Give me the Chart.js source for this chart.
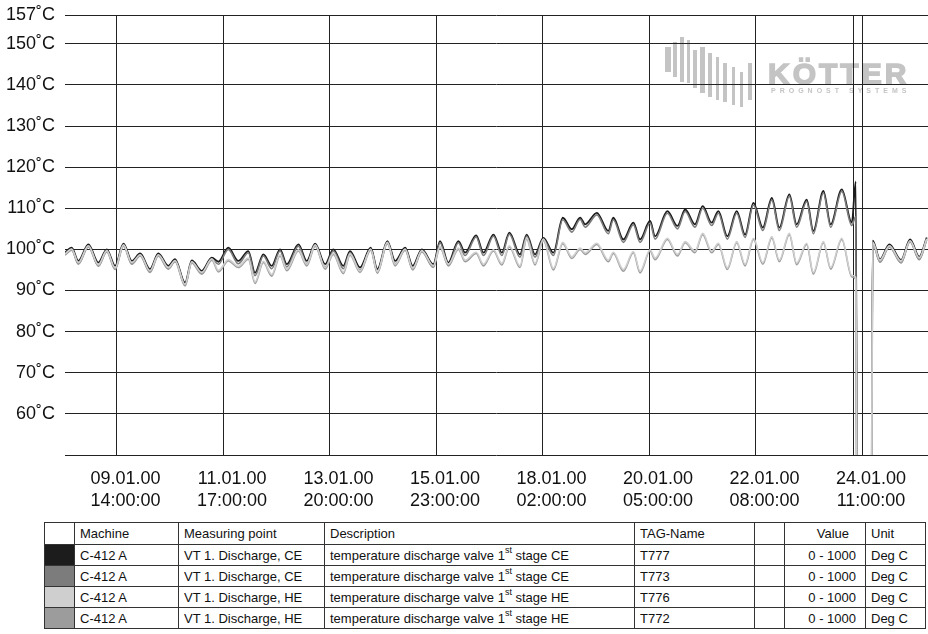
<!DOCTYPE html>
<html>
<head>
<meta charset="utf-8">
<script src="https://cdn.jsdelivr.net/npm/chart.js@4/dist/chart.umd.min.js"></script>
<style>
  html, body { margin:0; padding:0; background:#fff; }
  body { width:928px; height:634px; position:relative; overflow:hidden; font-family:"Liberation Sans", Arial, Helvetica, sans-serif; }
  #wrap { position:absolute; left:0; top:0; width:928px; height:520px; }
  table { position:absolute; left:44px; top:522px; border-collapse:collapse; table-layout:fixed; width:881px;
          font:13px "Liberation Sans", Arial, Helvetica, sans-serif; color:#111; }
  td { border:1px solid #333; padding:0 0 0 5px; white-space:nowrap; overflow:hidden; line-height:15px; }
  tr.h td { height:21px; }
  tr.r td { height:20px; }
  td.num { text-align:right; padding:0 9px 0 0; }
  td.sw { padding:0; }
  sup { font-size:9px; line-height:0; position:relative; top:-1px; }
</style>
</head>
<body>
<div id="wrap"><canvas id="c" width="928" height="520"></canvas></div>
<table id="legend">
  <colgroup>
    <col style="width:30px"><col style="width:104px"><col style="width:146px"><col style="width:310px">
    <col style="width:120px"><col style="width:30px"><col style="width:81px"><col style="width:60px">
  </colgroup>
  <tbody id="tb"></tbody>
</table>
<script>
// ---------- data ----------
const timeHours = [
  -24.7, -21.5, -18.3, -13.5, -8.7, -4.7, -0.7, 3.3, 7.3, 11.3, 16.0, 20.0, 24.8, 28.0, 32.8, 36.0, 40.8, 45.6, 48.8, 53.5,
  58.3, 63.1, 66.3, 70.3, 74.3, 78.3, 81.5, 87.1, 91.1, 95.1, 99.9, 103.8, 108.6, 111.8,
  116.6, 121.7, 124.9, 129.7, 133.4, 138.2, 141.8, 146.2, 151.7, 154.9, 158.9, 163.7, 166.9, 172.2, 175.7, 180.5,
  184.5, 188.1, 193.2, 196.4, 200.4, 204.4, 209.2, 213.7, 218.0, 222.0, 224.4,
  230.0, 235.5, 237.9, 242.7, 247.5, 250.7, 255.5, 257.9, 263.8, 268.6, 272.3, 277.0, 280.7, 285.0, 288.2, 292.5,
  297.0, 301.0, 305.0, 309.5, 313.8, 317.4, 322.2, 325.7, 330.5, 333.7, 338.5, 342.0, 347.3, 352.1, 354.0, 354.9,
  361.3, 362.1, 365.6, 370.1, 375.7, 380.0, 384.4, 388.0
];
const t777 = [
  99.2, 100.4, 97.2, 101.2, 96.8, 100.0, 96.0, 101.4, 97.2, 99.0, 95.2, 99.0, 96.0, 97.6, 91.9, 97.3, 94.8, 98.0, 97.0, 100.4,
  97.2, 99.6, 94.3, 98.8, 96.0, 100.0, 96.4, 101.2, 97.2, 101.4, 96.4, 100.0, 96.0, 99.6,
  95.6, 100.4, 95.2, 102.0, 97.2, 100.4, 96.0, 100.0, 96.4, 102.0, 96.8, 102.0, 99.2, 103.4, 99.2, 103.6,
  99.2, 104.1, 98.8, 103.6, 98.8, 102.8, 99.2, 107.7, 104.9, 107.7, 106.1,
  108.9, 104.5, 107.7, 102.4, 106.5, 102.4, 106.9, 103.2, 109.3, 105.7, 109.7, 106.1, 110.5, 106.5, 109.3, 103.2,
  109.3, 103.6, 111.3, 105.3, 112.5, 105.3, 113.4, 106.1, 112.1, 104.5, 114.2, 106.1, 114.6, 106.5, 116.5, 0,
  0, 102.1, 97.6, 101.2, 97.4, 102.4, 98.2, 102.9
];
const t773 = [
  98.8, 100.0, 96.5, 100.8, 96.0, 99.6, 95.3, 101.0, 96.5, 98.6, 94.5, 98.6, 95.3, 97.2, 91.3, 96.9, 94.1, 97.6, 96.4, 100.0,
  96.5, 99.2, 93.6, 98.4, 95.3, 99.6, 95.7, 100.8, 96.5, 101.0, 95.7, 99.6, 95.3, 99.2,
  94.9, 100.0, 94.5, 101.6, 96.5, 100.0, 95.3, 99.6, 95.7, 101.6, 96.1, 101.6, 98.5, 103.0, 98.5, 103.2,
  98.5, 103.7, 98.1, 103.2, 98.1, 102.4, 98.5, 107.2, 104.2, 107.3, 105.4,
  108.4, 103.8, 107.2, 101.7, 106.0, 101.7, 106.4, 102.5, 108.8, 105.0, 109.2, 105.4, 110.0, 105.8, 108.8, 102.5,
  108.8, 102.9, 110.8, 104.6, 112.0, 104.6, 112.9, 105.4, 111.6, 103.8, 113.7, 105.4, 114.1, 105.8, 108.0, 0,
  0, 101.6, 96.9, 100.8, 96.7, 102.0, 97.5, 102.5
];
const t776 = [
  98.9, 100.1, 96.8, 100.9, 96.3, 99.7, 95.5, 101.1, 96.8, 98.7, 94.8, 98.7, 95.6, 97.3, 91.5, 97.0, 94.4, 97.7, 94.9, 97.5,
  95.9, 97.9, 92.1, 97.1, 93.9, 98.7, 95.2, 99.9, 96.4, 101.1, 95.6, 99.1, 94.5, 98.9,
  94.8, 100.1, 94.6, 101.7, 96.4, 100.1, 95.4, 99.7, 96.0, 100.7, 96.4, 100.3, 97.4, 99.3, 96.4, 99.9,
  96.6, 100.9, 96.0, 102.8, 96.6, 102.5, 95.4, 101.7, 98.2, 100.3, 99.2,
  101.5, 97.4, 99.3, 95.1, 99.5, 94.7, 99.9, 97.9, 102.7, 98.8, 101.9, 99.6, 103.9, 99.6, 101.5, 95.5,
  101.9, 96.4, 102.7, 96.8, 103.1, 97.4, 103.9, 96.7, 101.5, 94.4, 101.9, 95.6, 102.7, 93.7, 93.2, 0,
  0, 101.7, 97.4, 100.9, 97.2, 102.1, 98.0, 102.6
];
const t772 = [
  98.6, 99.8, 96.4, 100.6, 95.9, 99.4, 95.1, 100.8, 96.4, 98.4, 94.4, 98.4, 95.2, 97.0, 91.1, 96.7, 94.0, 97.4, 94.5, 97.2,
  95.6, 97.6, 91.7, 96.8, 93.5, 98.4, 94.8, 99.6, 96.0, 100.8, 95.2, 98.8, 94.1, 98.6,
  94.4, 99.8, 94.2, 101.4, 96.0, 99.8, 95.0, 99.4, 95.6, 100.4, 96.0, 100.0, 97.0, 99.0, 96.0, 99.6,
  96.2, 100.6, 95.6, 102.5, 96.2, 102.2, 95.0, 101.4, 97.8, 100.0, 98.8,
  101.2, 97.0, 99.0, 94.7, 99.2, 94.3, 99.6, 97.5, 102.4, 98.4, 101.6, 99.2, 103.6, 99.2, 101.2, 95.1,
  101.6, 96.0, 102.4, 96.4, 102.8, 97.0, 103.6, 96.3, 101.2, 94.0, 101.6, 95.2, 102.4, 93.3, 92.8, 0,
  0, 101.4, 97.0, 100.6, 96.8, 101.8, 97.6, 102.3
];
const tickHours = [0, 51, 102, 153, 204, 255, 306, 357];
const tickLabels = [
  ['09.01.00', '14:00:00'], ['11.01.00', '17:00:00'], ['13.01.00', '20:00:00'], ['15.01.00', '23:00:00'],
  ['18.01.00', '02:00:00'], ['20.01.00', '05:00:00'], ['22.01.00', '08:00:00'], ['24.01.00', '11:00:00']
];
const yTicks = [50, 60, 70, 80, 90, 100, 110, 120, 130, 140, 150, 157];
const markerHour = 352.9;
const xMin = -24.7, xMax = 388.6, yMin = 50, yMax = 157;

const seriesTags = ['T777', 'T773', 'T776', 'T772'];
const seriesColors = ['#1c1c1c', '#7c7c7c', '#cfcfcf', '#9c9c9c'];
const seriesValues = [t777, t773, t776, t772];
const machines = ['C-412 A', 'C-412 A', 'C-412 A', 'C-412 A'];
const points = ['VT 1. Discharge, CE', 'VT 1. Discharge, CE', 'VT 1. Discharge, HE', 'VT 1. Discharge, HE'];
const stages = ['CE', 'CE', 'HE', 'HE'];
const ranges = ['0 - 1000', '0 - 1000', '0 - 1000', '0 - 1000'];
const units = ['Deg C', 'Deg C', 'Deg C', 'Deg C'];

// ---------- table ----------
const tb = document.getElementById('tb');
let html = '<tr class="h"><td class="sw"></td><td>Machine</td><td>Measuring point</td><td>Description</td><td>TAG-Name</td><td></td><td class="num" style="padding-right:16px">Value</td><td>Unit</td></tr>';
for (let i = 0; i < 4; i++) {
  html += '<tr class="r"><td class="sw" style="background:' + seriesColors[i] + '"></td><td>' + machines[i] + '</td><td>' + points[i] +
    '</td><td>temperature discharge valve 1<sup>st</sup> stage ' + stages[i] + '</td><td>' + seriesTags[i] +
    '</td><td></td><td class="num">' + ranges[i] + '</td><td>' + units[i] + '</td></tr>';
}
tb.innerHTML = html;

// ---------- chart ----------
const FONT = '"Liberation Sans", Arial, Helvetica, sans-serif';
const order = [2, 3, 1, 0]; // draw lightest first
const datasets = order.map(i => ({
  label: seriesTags[i],
  data: timeHours.map((t, k) => ({ x: t, y: seriesValues[i][k] })),
  borderColor: seriesColors[i],
  borderWidth: i === 0 ? 1.8 : 1.6,
  pointRadius: 0,
  cubicInterpolationMode: 'monotone',
  fill: false
}));

const logoPlugin = {
  id: 'logo',
  beforeDraw(chart) {
    const ctx = chart.ctx;
    ctx.save();
    ctx.fillStyle = '#c4c4c4';
    const bars = [[665,47,6,25],[673,42,4,35],[680,37,4,45],[687,40,3,43],[693,50,4,38],[700,47,5,46],
                  [708,53,4,44],[716,57,3,43],[723,63,4,39],[732,67,3,38],[740,72,3,35],[748,63,4,37]];
    bars.forEach(b => ctx.fillRect(b[0], b[1], b[2], b[3]));
    ctx.font = 'bold 30px ' + FONT;
    ctx.letterSpacing = '3px';
    ctx.textBaseline = 'alphabetic';
    ctx.strokeStyle = '#c4c4c4';
    ctx.lineWidth = 1.5;
    ctx.fillText('KÖTTER', 768, 84);
    ctx.strokeText('KÖTTER', 768, 84);
    ctx.font = 'bold 7px ' + FONT;
    ctx.letterSpacing = '4px';
    ctx.fillText('PROGNOST SYSTEMS', 771, 93);
    ctx.restore();
  }
};
const markerPlugin = {
  id: 'marker',
  beforeDatasetsDraw(chart) {
    const x = chart.scales.x.getPixelForValue(markerHour);
    const a = chart.chartArea;
    const ctx = chart.ctx;
    ctx.save();
    ctx.strokeStyle = '#222';
    ctx.lineWidth = 1;
    ctx.beginPath();
    ctx.moveTo(Math.round(x) + 0.5, a.top);
    ctx.lineTo(Math.round(x) + 0.5, a.bottom);
    ctx.stroke();
    ctx.restore();
  }
};

new Chart(document.getElementById('c'), {
  type: 'line',
  data: { datasets },
  plugins: [logoPlugin, markerPlugin],
  options: {
    responsive: false,
    animation: false,
    devicePixelRatio: 1,
    layout: { padding: { top: 15, left: 0, right: 0, bottom: 0 } },
    plugins: { legend: { display: false }, tooltip: { enabled: false } },
    scales: {
      x: {
        type: 'linear', min: xMin, max: xMax,
        afterBuildTicks(scale) { scale.ticks = tickHours.map(v => ({ value: v })); },
        afterFit(scale) { scale.height = 520 - 455; scale.paddingLeft = 0; scale.paddingRight = 0; },
        grid: { color: '#222', lineWidth: 1, drawTicks: false },
        border: { display: false },
        ticks: {
          autoSkip: false, maxRotation: 0, minRotation: 0, padding: 13, labelOffset: 9,
          color: '#111', font: { family: FONT, size: 18, lineHeight: 1.24 },
          callback: (v, i) => tickLabels[i]
        }
      },
      y: {
        type: 'linear', min: yMin, max: yMax,
        afterBuildTicks(scale) { scale.ticks = yTicks.map(v => ({ value: v })); },
        afterFit(scale) { scale.width = 65; scale.paddingTop = 0; scale.paddingBottom = 0; },
        grid: { color: '#222', lineWidth: 1, drawTicks: false },
        border: { display: false },
        ticks: {
          autoSkip: false, padding: 10, color: '#111',
          font: { family: FONT, size: 18 },
          callback: v => v === 50 ? '' : v + '˚C'
        }
      }
    }
  }
});
</script>
</body>
</html>
